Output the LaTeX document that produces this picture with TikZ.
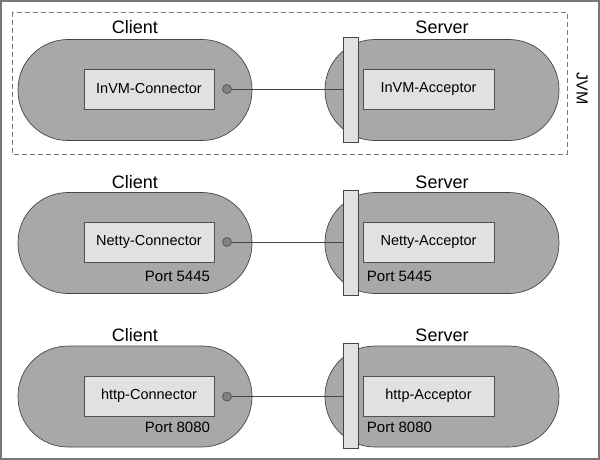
\documentclass[tikz,border=0pt]{standalone}
\usepackage{fontspec}
\setmainfont{Liberation Sans}
\definecolor{pillfill}{RGB}{169,167,167}
\definecolor{pillline}{RGB}{70,70,70}
\definecolor{boxfill}{RGB}{225,225,225}
\definecolor{boxline}{RGB}{80,80,80}
\definecolor{framegray}{RGB}{120,120,120}
\definecolor{dotfill}{RGB}{130,130,130}
\begin{document}
\begin{tikzpicture}[x=1pt,y=-1pt,
  pill/.style={draw=pillline, fill=pillfill, rounded corners=50pt, minimum width=234pt, minimum height=101pt, inner sep=0pt, line width=0.7pt},
  compbox/.style={draw=boxline, fill=boxfill, minimum height=40pt, inner sep=0pt, line width=0.6pt, font=\fontsize{14.5}{16}\selectfont},
  barbox/.style={draw=pillline, fill=boxfill, minimum width=15pt, minimum height=105pt, inner sep=0pt, line width=0.7pt},
  dotnode/.style={circle, draw=pillline, fill=dotfill, minimum size=9pt, inner sep=0pt, line width=0.6pt},
  title/.style={font=\fontsize{18}{20}\selectfont, inner sep=0pt},
  port/.style={font=\fontsize{15}{17}\selectfont, inner sep=0pt},
  link/.style={draw=pillline, line width=0.7pt}]
\useasboundingbox (0,0) rectangle (600,460);
\draw[framegray, line width=1.5pt] (1,1) rectangle (599,459);
\draw[framegray, line width=0.8pt, dash pattern=on 5pt off 3pt] (12,12) rectangle (567,154);
\node[rotate=-90, font=\fontsize{16}{18}\selectfont, inner sep=0pt] (jvm) at (582,89) {JVM};

% Row 1
\node[title] (c1t) at (135,27) {Client};
\node[title] (s1t) at (442,27) {Server};
\node[pill] (c1) at (135,90) {};
\node[pill] (s1) at (442,90) {};
\node[compbox, minimum width=130pt] (c1b) at (149,89) {InVM-Connector};
\node[compbox, minimum width=131pt] (s1b) at (428.5,89) {InVM-Acceptor};
\node[barbox] (b1) at (350.5,89.5) {};
\node[dotnode] (d1) at (227,89) {};
\draw[link] (d1.east) -- (d1.east -| b1.west);

% Row 2
\node[title] (c2t) at (135,182) {Client};
\node[title] (s2t) at (442,182) {Server};
\node[pill] (c2) at (135,243) {};
\node[pill] (s2) at (442,243) {};
\node[compbox, minimum width=130pt] (c2b) at (149,242) {Netty-Connector};
\node[compbox, minimum width=131pt] (s2b) at (428.5,242) {Netty-Acceptor};
\node[barbox] (b2) at (350.5,243) {};
\node[dotnode] (d2) at (227,242) {};
\draw[link] (d2.east) -- (d2.east -| b2.west);
\node[port] (c2p) at (177.5,276) {Port 5445};
\node[port] (s2p) at (399.5,276) {Port 5445};

% Row 3
\node[title] (c3t) at (135,335) {Client};
\node[title] (s3t) at (442,335) {Server};
\node[pill] (c3) at (135,396.5) {};
\node[pill] (s3) at (442,396.5) {};
\node[compbox, minimum width=130pt] (c3b) at (149,396) {http-Connector};
\node[compbox, minimum width=131pt] (s3b) at (428.5,396) {http-Acceptor};
\node[barbox] (b3) at (350.5,396) {};
\node[dotnode] (d3) at (227,396.5) {};
\draw[link] (d3.east) -- (d3.east -| b3.west);
\node[port] (c3p) at (177.5,427) {Port 8080};
\node[port] (s3p) at (399.5,427) {Port 8080};
\end{tikzpicture}
\end{document}
